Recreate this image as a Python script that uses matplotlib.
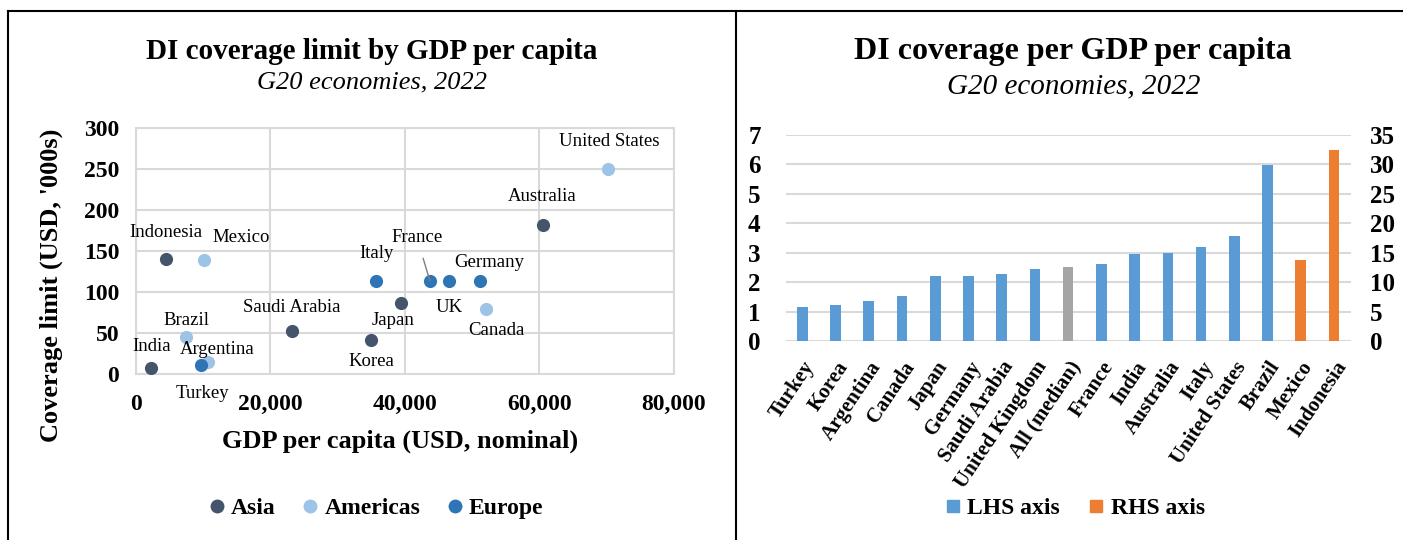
import matplotlib
matplotlib.use("Agg")
import matplotlib.pyplot as plt
from matplotlib.lines import Line2D

plt.rcParams['font.family'] = ['Liberation Serif', 'DejaVu Serif']

# left panel: coverage limit vs GDP per capita
countries = ["United States", "Australia", "Indonesia", "Mexico", "Italy", "France",
             "UK", "Germany", "Japan", "Canada", "Saudi Arabia", "Korea", "Brazil",
             "India", "Argentina", "Turkey"]
gdp_pc = [70200, 60450, 4400, 10100, 35700, 43700, 46550, 51150, 39350, 52000,
          23200, 35000, 7500, 2300, 10650, 9650]
cover_limit = [250, 182, 140, 139, 114, 114, 114, 114, 87, 80, 53, 42, 45, 7, 15, 11]
region = ["Americas", "Asia", "Asia", "Americas", "Europe", "Europe", "Europe", "Europe",
          "Asia", "Americas", "Asia", "Asia", "Americas", "Asia", "Americas", "Europe"]
regions = ["Asia", "Americas", "Europe"]

# right panel: coverage per GDP per capita
bar_names = ["Turkey", "Korea", "Argentina", "Canada", "Japan", "Germany", "Saudi Arabia",
             "United Kingdom", "All (median)", "France", "India", "Australia", "Italy",
             "United States", "Brazil", "Mexico", "Indonesia"]
lhs_vals = [1.17, 1.21, 1.37, 1.53, 2.21, 2.22, 2.29, 2.45, 2.53, 2.60, 2.96, 3.0,
            3.20, 3.56, 5.98, None, None]
rhs_vals = [None] * 15 + [13.8, 32.5]

region_colors = {"Asia": "#44546A", "Americas": "#9DC3E6", "Europe": "#2E75B6"}
c_lhs, c_med, c_rhs = "#5B9BD5", "#A5A5A5", "#ED7D31"
grid_c = "#D9D9D9"

# label offsets in pixels (dx, dy)
offsets = {"United States": (1, 28), "Australia": (0, 28), "Indonesia": (0, 27),
           "Mexico": (37, 23), "Italy": (0, 27), "France": (-13, 43), "UK": (0, -27),
           "Germany": (9, 18), "Japan": (-8, -18), "Canada": (11, -22),
           "Saudi Arabia": (0, 23), "Korea": (0, -22), "Brazil": (0, 17),
           "India": (0, 22), "Argentina": (10, 12), "Turkey": (2, -28)}

fig = plt.figure(figsize=(14.03, 5.4), dpi=100)

# ---- left scatter
ax = fig.add_axes([0.0969, 0.307, 0.3835, 0.456])
for r in regions:
    xs = [g for g, rr in zip(gdp_pc, region) if rr == r]
    ys = [c for c, rr in zip(cover_limit, region) if rr == r]
    ax.scatter(xs, ys, s=90, color=region_colors[r], label=r, zorder=3, linewidths=0)
for name, x, y in zip(countries, gdp_pc, cover_limit):
    dx, dy = offsets[name]
    if name == "France":
        ax.annotate(name, (x, y), xytext=(dx, dy), textcoords="offset pixels",
                    ha="center", va="center", fontsize=13.5, zorder=4,
                    arrowprops=dict(arrowstyle="-", color="#7F7F7F", lw=1,
                                    shrinkA=7, shrinkB=0))
    else:
        ax.annotate(name, (x, y), xytext=(dx, dy), textcoords="offset pixels",
                    ha="center", va="center", fontsize=13.5, zorder=4)
ax.set_xlim(0, 80000)
ax.set_ylim(0, 300)
ax.set_xticks([0, 20000, 40000, 60000, 80000])
ax.set_xticklabels(["0", "20,000", "40,000", "60,000", "80,000"])
ax.set_yticks(range(0, 301, 50))
ax.grid(True, color=grid_c, lw=1.5)
ax.set_axisbelow(True)
for sp in ax.spines.values():
    sp.set_color(grid_c)
    sp.set_linewidth(1.5)
ax.tick_params(length=0, labelsize=17)
ax.tick_params(axis="x", pad=14)
ax.tick_params(axis="y", pad=12)
for lab in ax.get_xticklabels() + ax.get_yticklabels():
    lab.set_fontweight("bold")
ax.set_xlabel("GDP per capita (USD, nominal)", fontsize=19, fontweight="bold")
ax.xaxis.set_label_coords(0.49, -0.225)
ax.set_ylabel("Coverage limit (USD, '000s)", fontsize=19, fontweight="bold")
ax.yaxis.set_label_coords(-0.136, 0.36)
fig.text(0.265, 0.905, "DI coverage limit by GDP per capita", ha="center", va="center",
         fontsize=21, fontweight="bold")
fig.text(0.265, 0.848, "G20 economies, 2022", ha="center", va="center",
         fontsize=19, style="italic")
fig.legend(handles=[Line2D([], [], marker="o", ls="", ms=10, mec="none",
                           color=region_colors[r], label=r) for r in regions],
           loc="center", bbox_to_anchor=(0.268, 0.059), ncol=3, frameon=False,
           prop={"weight": "bold", "size": 17}, handlelength=0.7,
           handletextpad=0.25, columnspacing=1.1)

# ---- right bars
bx = fig.add_axes([0.560, 0.3685, 0.4027, 0.3815])
bx2 = bx.twinx()
pos = list(range(len(bar_names)))
for i, (n, v) in enumerate(zip(bar_names, lhs_vals)):
    if v is not None:
        bx.bar(i, v, width=0.32, color=c_med if n == "All (median)" else c_lhs, zorder=3)
for i, v in enumerate(rhs_vals):
    if v is not None:
        bx2.bar(i, v, width=0.32, color=c_rhs, zorder=3)
bx.set_xlim(-0.5, len(bar_names) - 0.5)
bx.set_ylim(0, 7)
bx2.set_ylim(0, 35)
bx.set_yticks(range(0, 8))
bx2.set_yticks(range(0, 36, 5))
bx.yaxis.grid(True, color=grid_c, lw=1.5)
bx.set_axisbelow(True)
for a in (bx, bx2):
    for sp in a.spines.values():
        sp.set_visible(False)
    a.tick_params(length=0, labelsize=18)
bx.tick_params(axis="y", pad=18)
bx2.tick_params(axis="y", pad=14)
bx.set_xticks(pos)
bx.set_xticklabels(bar_names, rotation=56, ha="right", rotation_mode="anchor",
                   fontsize=15, fontweight="bold")
bx.tick_params(axis="x", pad=12)
for lab in bx.get_yticklabels() + bx2.get_yticklabels():
    lab.set_fontweight("bold")
fig.text(0.765, 0.905, "DI coverage per GDP per capita", ha="center", va="center",
         fontsize=23, fontweight="bold")
fig.text(0.765, 0.840, "G20 economies, 2022", ha="center", va="center",
         fontsize=21, style="italic")
fig.legend(handles=[Line2D([], [], marker="s", ls="", ms=9, color=c_lhs, label="LHS axis"),
                    Line2D([], [], marker="s", ls="", ms=9, color=c_rhs, label="RHS axis")],
           loc="center", bbox_to_anchor=(0.766, 0.059), ncol=2, frameon=False,
           prop={"weight": "bold", "size": 17}, handlelength=0.7,
           handletextpad=0.25, columnspacing=1.2)

# panel borders
for ln in [Line2D([0.0057, 1.0], [0.9796, 0.9796]),
           Line2D([0.0057, 0.0057], [0.0, 0.9796]),
           Line2D([0.5246, 0.5246], [0.0, 0.9796])]:
    ln.set_color("black")
    ln.set_linewidth(1.5)
    fig.add_artist(ln)

fig.savefig("out.png", dpi=100)
